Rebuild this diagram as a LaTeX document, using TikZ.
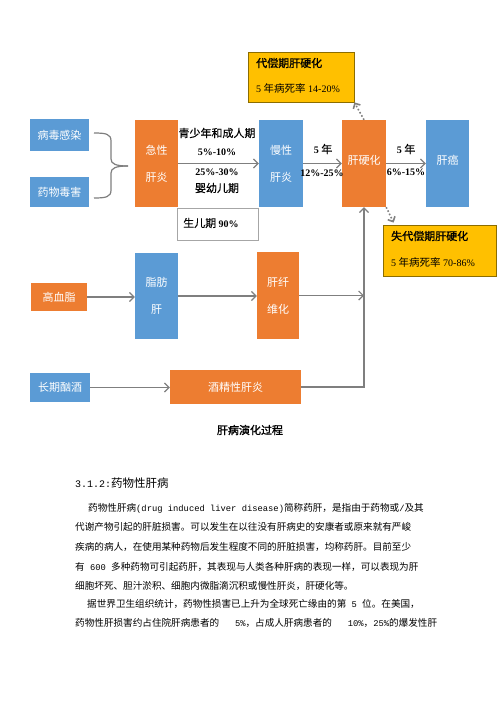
\documentclass[tikz,border=0pt]{standalone}
\usepackage{fontspec}
\setmainfont{Liberation Serif}
\newfontfamily\cjk{Noto Sans CJK SC}
\newfontfamily\cjkb[FakeBold=1.5]{Noto Sans CJK SC}
\newfontfamily\cjkm[FakeBold=0.3]{Noto Sans CJK SC}
\newfontfamily\mono{Liberation Mono}
\usetikzlibrary{arrows.meta,calc}
\definecolor{myblue}{HTML}{5B9BD5}
\definecolor{myorange}{HTML}{ED7D31}
\definecolor{myyellow}{HTML}{FFC000}
\definecolor{ybord}{HTML}{8C6D00}
\definecolor{agray}{HTML}{7F7F7F}
\definecolor{lgray}{HTML}{A6A6A6}
\newcommand\zh[1]{{\mdseries\cjkm\fontsize{11}{13}\selectfont #1}}
\newcommand\mn[1]{{\mono\fontsize{8.8}{10}\selectfont #1}}
\begin{document}
\begin{tikzpicture}[x=1pt,y=-1pt,
  box/.style={inner sep=0pt, text=white, font=\cjk\fontsize{11}{27}\selectfont, align=center},
  bluebox/.style={box, fill=myblue},
  orangebox/.style={box, fill=myorange},
  arr/.style={draw=agray, line width=1.2pt, -{Straight Barb[length=4.5pt,width=9pt]}},
  dotarr/.style={draw=agray, line width=1.6pt, dotted, -{Straight Barb[length=4pt,width=8pt]}},
  bracepath/.style={draw=agray, line width=1.2pt},
  lbl/.style={inner sep=0pt, font=\bfseries\fontsize{10}{12}\selectfont},
  nlbl/.style={inner sep=0pt, font=\fontsize{10}{12}\selectfont},
  zlbl/.style={inner sep=0pt, font=\cjkm\fontsize{11}{13}\selectfont},
  ybox/.style={draw=ybord, fill=myyellow, line width=0.8pt, inner sep=0pt},
  body/.style={inner sep=0pt, anchor=west, font=\cjk\fontsize{9.6}{12}\selectfont}
]
\useasboundingbox (0,0) rectangle (500,707);
\fill[white] (0,0) rectangle (500,707);

% row 1
\node[bluebox, minimum width=59pt, minimum height=32pt] (bd) at (59.5,135) {病毒感染};
\node[bluebox, minimum width=59pt, minimum height=30pt] (yw) at (59.5,192) {药物毒害};
\node[orangebox, minimum width=43pt, minimum height=87pt] (jx) at (156.5,163.5) {急性\\肝炎};
\node[bluebox, minimum width=44pt, minimum height=87pt] (mx) at (281,163.5) {慢性\\肝炎};
\node[orangebox, minimum width=44pt, minimum height=87pt] (ygh) at (364,163.5) {\raisebox{7pt}{肝硬化}};
\node[bluebox, minimum width=43pt, minimum height=87pt] (ga) at (447.5,163.5) {\raisebox{7pt}{肝癌}};

% brace
\coordinate (bt) at (128,166);
\draw[bracepath] (94,133) .. controls (106,133) and (111,134) .. (111,141) -- (111,159) .. controls (111,164) and (116,166) .. (bt);
\draw[bracepath] (94,198) .. controls (106,198) and (111,197) .. (111,190) -- (111,173) .. controls (111,168) and (116,166) .. (bt);

% labels on acute -> chronic
\node[zlbl] (l1) at (217,133) {青少年和成人期};
\node[lbl] (l2) at (217,152) {5\%-10\%};
\node[lbl] (l3) at (217,172) {25\%-30\%};
\node[zlbl] (l4) at (217,188) {婴幼儿期};
\node[draw=lgray, fill=white, line width=0.6pt, minimum width=81pt, minimum height=32pt, inner sep=0pt] (sr) at (217.5,224) {};
\node[lbl, anchor=west] (srt) at (183,223) {\zh{生儿期} 90\%};

\node[lbl] (l5) at (323,149) {5 \zh{年}};
\node[lbl] (l6) at (322,173) {12\%-25\%};
\node[lbl] (l7) at (406,149) {5 \zh{年}};
\node[lbl] (l8) at (406,172) {6\%-15\%};

% yellow boxes
\node[ybox, minimum width=106pt, minimum height=50pt] (dc) at (301,77) {};
\node[zlbl, anchor=west, font=\cjkb\fontsize{11}{13}\selectfont] (dct) at (256,63) {代偿期肝硬化};
\node[nlbl, anchor=west] (dcr) at (256,88) {5 {\cjk\fontsize{10.5}{12}\selectfont 年病死率} 14-20\%};
\node[ybox, minimum width=113pt, minimum height=51pt] (sdc) at (439.5,250.5) {};
\node[zlbl, anchor=west, font=\cjkb\fontsize{11}{13}\selectfont] (sdct) at (391,236) {失代偿期肝硬化};
\node[nlbl, anchor=west] (sdcr) at (391,262) {5 {\cjk\fontsize{10.5}{12}\selectfont 年病死率} 70-86\%};

% row 2 and 3
\node[orangebox, minimum width=56pt, minimum height=28pt] (gxz) at (59,297) {高血脂};
\node[bluebox, minimum width=43pt, minimum height=86pt] (zfg) at (156.5,296) {脂肪\\肝};
\node[orangebox, minimum width=42pt, minimum height=87pt] (gxw) at (278,295.5) {肝纤\\维化};
\node[bluebox, minimum width=60pt, minimum height=29pt] (cq) at (60,387.5) {长期酗酒};
\node[orangebox, minimum width=131pt, minimum height=34pt] (jj) at (235.5,387) {酒精性肝炎};

% arrows
\draw[arr] (jx.east) -- (mx.west);
\draw[arr] (mx.east) -- (ygh.west);
\draw[arr] (ygh.east) -- (ga.west);
\draw[arr] (gxz.east) -- (gxz.east -| zfg.west);
\draw[arr] (zfg.east) -- (zfg.east -| gxw.west);
\draw[arr] (gxw.east) -- (gxw.east -| ygh.south);
\draw[arr] (cq.east) -- (cq.east -| jj.west);
\draw[arr] (jj.east) -| (ygh.south);
\draw[dotarr] (ygh.north) -- (dc.south east);
\draw[dotarr] (ygh.south east) -- ($(sdc.north west)+(11,-2)$);

% caption
\node[inner sep=0pt, font=\cjkb\fontsize{11}{13}\selectfont] (cap) at (250,430) {肝病演化过程};

% text
\node[body] (h) at (75,483) {{\mono\fontsize{10}{12}\selectfont 3.1.2:}{\fontsize{11.5}{14}\selectfont 药物性肝病}};
\node[body] (t1) at (88,508) {药物性肝病\mn{(drug induced liver disease)}简称药肝，是指由于药物或\mn{/}及其};
\node[body] (t2) at (75,527) {代谢产物引起的肝脏损害。可以发生在以往没有肝病史的安康者或原来就有严峻};
\node[body] (t3) at (75,547) {疾病的病人，在使用某种药物后发生程度不同的肝脏损害，均称药肝。目前至少};
\node[body] (t4) at (75,567) {有\mn{ 600 }多种药物可引起药肝，其表现与人类各种肝病的表现一样，可以表现为肝};
\node[body] (t5) at (75,586) {细胞坏死、胆汁淤积、细胞内微脂滴沉积或慢性肝炎，肝硬化等。};
\node[body] (t6) at (87,604) {据世界卫生组织统计，药物性损害已上升为全球死亡缘由的第\mn{ 5 }位。在美国，};
\node[body] (t7) at (75,623) {药物性肝损害约占住院肝病患者的\mn{\ \ \ 5\%}，占成人肝病患者的\mn{\ \ \ 10\%}，\mn{25\%}的爆发性肝};
\end{tikzpicture}
\end{document}
